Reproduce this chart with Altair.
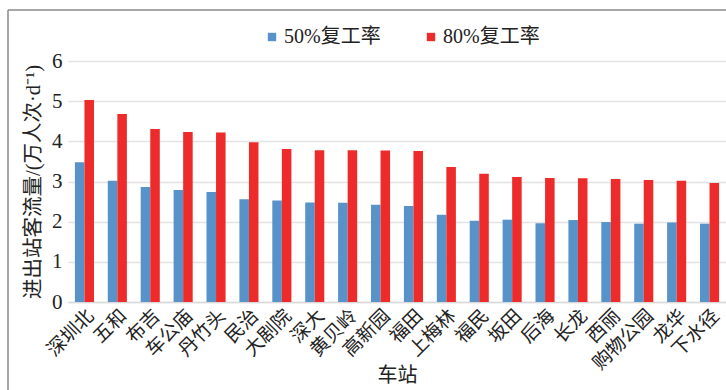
import altair as alt
import pandas as pd

stations = ["深圳北", "五和", "布吉", "车公庙", "丹竹头", "民治", "大剧院", "深大", "黄贝岭", "高新园",
            "福田", "上梅林", "福民", "坂田", "后海", "长龙", "西丽", "购物公园", "龙华", "下水径"]
rate50 = [3.48, 3.02, 2.86, 2.79, 2.74, 2.56, 2.53, 2.48, 2.47, 2.42,
          2.39, 2.17, 2.02, 2.05, 1.96, 2.04, 1.99, 1.95, 1.98, 1.95]
rate80 = [5.03, 4.68, 4.31, 4.23, 4.22, 3.98, 3.81, 3.78, 3.78, 3.77,
          3.76, 3.36, 3.19, 3.11, 3.09, 3.08, 3.06, 3.04, 3.02, 2.96]
y_ticks = [0, 1, 2, 3, 4, 5, 6]
series = ["50%复工率", "80%复工率"]
colors = ["#5793C9", "#EE2B2B"]

rows = []
for s, a, b in zip(stations, rate50, rate80):
    rows.append({"车站": s, "series": series[0], "value": a})
    rows.append({"车站": s, "series": series[1], "value": b})
df = pd.DataFrame(rows)

FONT = "Liberation Serif, Noto Sans CJK SC"
W, H = 658, 241

bars = alt.Chart(df).mark_bar().encode(
    x=alt.X("车站:N", sort=stations,
            scale=alt.Scale(paddingInner=0.42, paddingOuter=0.21),
            axis=alt.Axis(title="车站", labelAngle=-45, labelFontSize=19, titleFontSize=20,
                          labelFont=FONT, titleFont=FONT, labelColor="#222", titleColor="#222",
                          titleFontWeight="normal", ticks=False, domainColor="#d9d9d9",
                          domainWidth=1.5, labelPadding=4, titleBaseline="middle",
                          titleY=73, labelOverlap=False)),
    xOffset=alt.XOffset("series:N", sort=series),
    y=alt.Y("value:Q", scale=alt.Scale(domain=[0, 6], nice=False),
            axis=alt.Axis(title="进出站客流量/(万人次·d⁻¹)", values=y_ticks,
                          labelFontSize=21, titleFontSize=20.5, labelOverlap=False,
                          labelFont=FONT, titleFont=FONT, labelColor="#222", titleColor="#222",
                          titleFontWeight="normal", ticks=False, domain=False,
                          gridColor="#e3e3e3", gridWidth=1.5, labelPadding=6, titlePadding=8)),
    color=alt.Color("series:N", sort=series,
                    scale=alt.Scale(domain=series, range=colors),
                    legend=alt.Legend(title=None, orient="none", direction="horizontal",
                                      legendX=194, legendY=-34, symbolType="square",
                                      symbolSize=70, symbolStrokeWidth=0, labelFontSize=20,
                                      labelFont=FONT, labelColor="#222", columnPadding=40,
                                      labelOffset=2)),
)

frame_df = pd.DataFrame({"k": [0]})
top_rule = alt.Chart(frame_df).mark_rule(color="#8a8a8a", strokeWidth=1.5).encode(
    x=alt.value(-60), x2=alt.value(W + 2), y=alt.value(-51))
left_rule = alt.Chart(frame_df).mark_rule(color="#8a8a8a", strokeWidth=1.5).encode(
    x=alt.value(-60), y=alt.value(-51), y2=alt.value(390))

chart = alt.layer(bars, top_rule, left_rule).properties(
    width=W, height=H,
    autosize=alt.AutoSizeParams(type="none"),
    padding={"left": 68, "top": 61, "right": 0, "bottom": 88},
    background="white",
).configure_view(stroke=None)

chart.save("out.html", embed_options={"renderer": "svg", "actions": False})
